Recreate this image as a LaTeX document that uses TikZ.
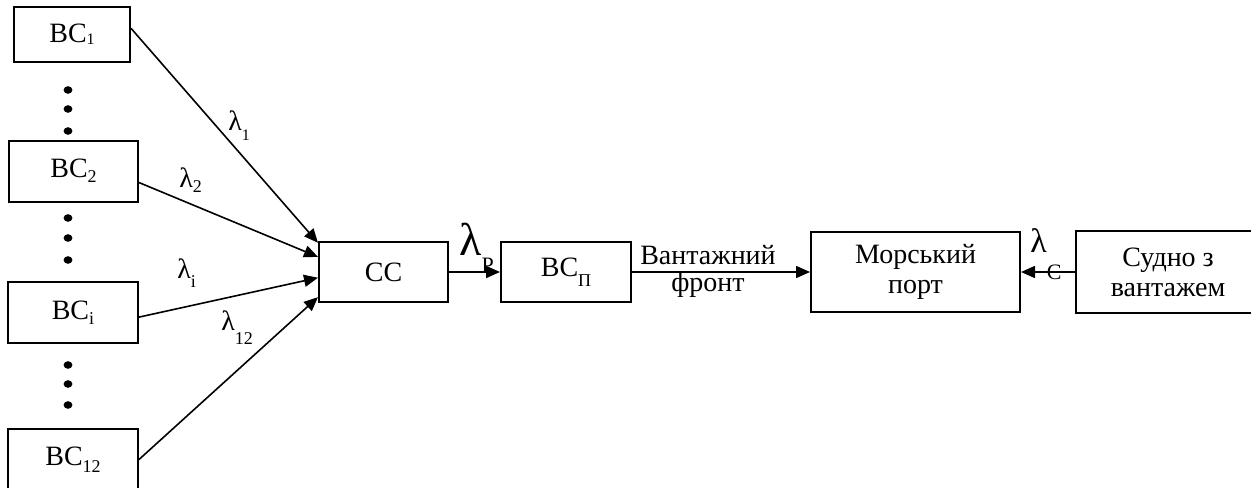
\documentclass[tikz,border=0pt]{standalone}
\usepackage{fontspec}
\setmainfont{Liberation Serif}
\usetikzlibrary{arrows.meta, positioning}
% lowered index: [drop]{size}{text}
\newcommand{\lsub}[3][1.5pt]{\raisebox{-#1}{\fontsize{#2}{#2}\selectfont #3}}

\begin{document}
\begin{tikzpicture}[
  x=0.5pt, y=-0.5pt,
  blk/.style={rectangle, draw, line width=1pt, fill=white,
              align=center, inner sep=0pt,
              font=\fontsize{14}{15}\selectfont},
  arr/.style={-{Triangle[length=7pt, width=6pt]}, line width=0.8pt},
  lam/.style={anchor=base west, inner sep=0pt,
              font=\fontsize{14}{14}\selectfont}
]
  \useasboundingbox (0,0) rectangle (1251,487);

  \node[blk, minimum width=58pt, minimum height=27.5pt] (bc1) at (72,34.5)
    {ВС\lsub[1pt]{8}{1}};
  \node[blk, minimum width=64.5pt, minimum height=30.5pt] (bc2) at (73.5,171)
    {ВС\lsub[2.5pt]{9}{2}};
  \node[blk, minimum width=65pt, minimum height=30.5pt] (bci) at (73,312.5)
    {ВС\lsub[2.5pt]{9}{i}};
  \node[blk, minimum width=65pt, minimum height=30.5pt] (bc12) at (73,459.5)
    {ВС\lsub[3.5pt]{9}{12}};

  \node[blk, minimum width=64.5pt, minimum height=30pt] (cc) at (383.5,272)
    {СС};
  \node[blk, minimum width=65pt, minimum height=30pt,
    right=25.5pt of cc] (bcp)
    {ВС\lsub[5pt]{9}{П}};
  \node[blk, minimum width=104.5pt, minimum height=40pt,
    right=89pt of bcp] (port)
    {Морський\\порт};
  \node[blk, minimum width=92pt, minimum height=41pt,
    right=27pt of port] (ship)
    {Судно з\\вантажем};

  % dots between the stations
  \fill (68,90) ellipse [x radius=2.2pt, y radius=1.9pt];
  \fill (68,109) ellipse [x radius=2.2pt, y radius=1.9pt];
  \fill (68,131) ellipse [x radius=2.2pt, y radius=1.9pt];
  \fill (68,218) ellipse [x radius=2.2pt, y radius=1.9pt];
  \fill (68,238) ellipse [x radius=2.2pt, y radius=1.9pt];
  \fill (68,260) ellipse [x radius=2.2pt, y radius=1.9pt];
  \fill (68,365) ellipse [x radius=2.2pt, y radius=1.9pt];
  \fill (68,384) ellipse [x radius=2.2pt, y radius=1.9pt];
  \fill (68,405) ellipse [x radius=2.2pt, y radius=1.9pt];

  \draw[arr] (bc1.6) -- (cc.156);
  \draw[arr] (bc2.-10) -- (cc.167);
  \draw[arr] (bci.-4) -- (cc.185);
  \draw[arr] (bc12.east) -- (cc.201);
  \draw[arr] (cc) -- (bcp);
  \draw[arr] (bcp) -- (port);
  \draw[arr] (ship) -- (port);

  \node[lam] (lam1) at (228,130) {λ\lsub[5pt]{8}{1}};
  \node[lam] (lam2) at (179,187) {λ\lsub[2.5pt]{9}{2}};
  \node[lam] (lami) at (177,278) {λ\lsub[4.5pt]{9}{i}};
  \node[lam] (lam12) at (221,330) {λ\lsub[7pt]{9}{12}};
  \node[lam, font=\fontsize{23}{23}\selectfont] (lamp) at (459,255)
    {λ\lsub[8.5pt]{11}{Р}};
  \node[lam, font=\fontsize{17}{17}\selectfont] (lamc) at (1030,252)
    {λ\lsub[13.5pt]{11}{С}};

  \node[align=center, font=\fontsize{14}{13.5}\selectfont] (front)
    at (708,271) {Вантажний\\фронт};
\end{tikzpicture}
\end{document}
